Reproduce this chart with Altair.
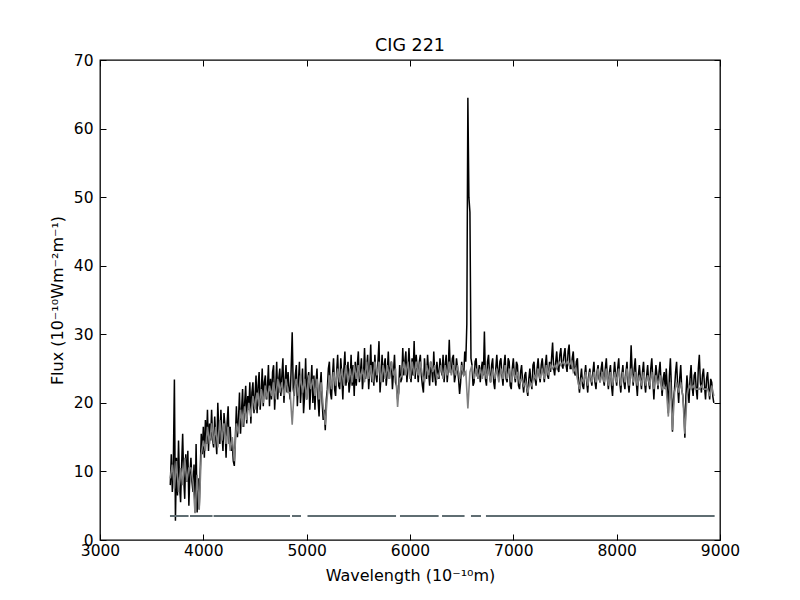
import altair as alt
import pandas as pd

# Wavelength grids (Angstrom)
wave_obs = list(range(3680, 8941, 10))
wave_fit = list(range(3680, 8941, 20))

flux_obs = [
    8.0, 12.5, 7.0, 11.5, 23.4, 2.8, 12.0, 6.5, 14.5, 8.0, 5.5, 11.0, 15.5, 9.0, 6.0, 12.5, 8.5, 13.0, 5.0, 9.5,
    12.0, 8.5, 7.0, 11.0, 4.0, 14.0, 4.0, 9.0, 4.5, 10.0, 15.5, 12.5, 16.5, 12.0, 17.5, 14.0, 19.0, 13.0, 17.0, 14.5,
    19.0, 14.5, 13.5, 18.0, 15.0, 12.5, 20.0, 16.0, 14.0, 19.0, 15.5, 13.0, 18.5, 16.5, 12.0, 17.0, 19.5, 14.0, 16.5, 13.0,
    14.0, 11.5, 10.8, 15.0, 19.5, 15.0, 17.5, 21.5, 15.5, 19.0, 22.0, 16.5, 20.0, 22.5, 17.0, 21.0, 19.0, 23.0, 17.0, 21.5,
    23.0, 18.5, 21.0, 24.0, 18.5, 22.5, 24.5, 19.0, 21.5, 25.0, 19.5, 23.0, 24.0, 20.5, 22.0, 25.5, 19.5, 23.5, 20.5, 24.5,
    25.5, 19.0, 22.0, 26.0, 20.5, 23.5, 25.0, 21.0, 24.0, 26.5, 20.0, 23.0, 25.5, 21.5, 24.5, 22.0, 20.5, 25.0, 30.3, 22.0,
    21.0, 24.0, 25.5, 19.5, 23.0, 26.0, 20.0, 22.5, 25.0, 18.5, 21.0, 26.5, 20.5, 23.5, 24.5, 19.0, 22.5, 25.5, 20.0, 24.0,
    19.0, 23.0, 25.0, 20.5, 18.0, 22.5, 24.5, 20.0, 17.5, 19.0, 16.0, 20.5, 22.0, 25.0, 26.0, 21.5, 20.5, 24.0, 26.5, 22.0,
    21.0, 24.5, 27.0, 22.5, 22.0, 26.5, 24.0, 20.5, 25.0, 27.5, 22.5, 24.0, 26.0, 21.5, 23.0, 27.0, 22.5, 25.5, 21.0, 26.0,
    22.5, 25.5, 27.5, 23.0, 24.5, 26.5, 22.0, 24.0, 28.0, 23.5, 25.0, 27.0, 22.0, 24.5, 28.5, 23.0, 26.0, 22.5, 27.0, 24.0,
    23.0, 26.0, 29.0, 21.5, 24.0, 27.0, 23.0, 25.5, 26.5, 22.5, 24.5, 27.5, 23.5, 25.0, 26.0, 22.0, 24.5, 27.0, 23.0, 22.5,
    20.5, 21.5, 25.5, 23.0, 23.5, 28.0, 24.0, 26.0, 27.5, 23.0, 25.0, 28.0, 24.5, 23.0, 26.5, 24.0, 29.0, 23.5, 27.0, 25.0,
    23.0, 26.0, 27.0, 24.0, 22.5, 21.5, 26.5, 24.0, 23.5, 27.0, 24.5, 22.5, 26.0, 25.0, 23.0, 27.5, 24.0, 22.5, 26.0, 24.5,
    23.5, 26.5, 25.0, 24.0, 27.0, 23.0, 25.5, 27.0, 23.0, 25.0, 29.2, 24.5, 24.5, 26.5, 27.0, 23.0, 24.0, 26.5, 25.0, 23.5,
    21.3, 23.0, 26.0, 24.5, 24.0, 27.5, 26.0, 31.5, 64.5, 50.0, 47.8, 26.5, 25.5, 22.5, 23.0, 26.0, 26.5, 24.0, 23.5, 25.5,
    23.0, 25.0, 26.0, 24.0, 30.4, 23.5, 22.5, 26.0, 27.0, 24.0, 23.0, 25.5, 26.5, 23.0, 22.0, 25.0, 27.0, 24.5, 23.5, 26.0,
    26.5, 24.0, 22.5, 25.5, 27.0, 23.5, 23.0, 26.5, 26.0, 22.5, 22.0, 25.0, 26.5, 24.0, 23.0, 26.0, 25.5, 22.5, 22.0, 24.5,
    25.5, 23.0, 21.5, 24.0, 24.5, 22.0, 21.0, 23.5, 25.0, 23.0, 22.0, 25.5, 26.0, 23.5, 22.5, 25.0, 26.5, 24.0, 23.0, 25.5,
    26.5, 24.5, 23.0, 25.5, 27.0, 24.0, 23.5, 26.0, 24.5, 26.5, 28.8, 25.0, 24.0, 26.0, 27.5, 25.0, 24.5, 27.0, 28.0, 25.5,
    25.0, 27.0, 28.0, 25.5, 24.5, 27.5, 28.5, 25.0, 25.0, 26.5, 27.5, 24.5, 24.0, 26.0, 26.5, 23.0, 21.5, 23.5, 25.0, 22.5,
    22.0, 24.0, 25.5, 23.0, 21.5, 24.0, 25.0, 23.5, 22.5, 24.5, 26.0, 23.0, 22.0, 24.5, 25.5, 23.5, 23.0, 25.0, 26.0, 23.5,
    22.5, 25.0, 26.5, 23.5, 22.0, 24.5, 25.5, 22.5, 21.0, 24.0, 26.0, 24.0, 22.5, 25.0, 26.5, 23.0, 21.5, 24.0, 25.5, 23.0,
    22.0, 24.5, 26.0, 23.0, 21.5, 24.0, 28.4, 24.5, 22.5, 25.0, 26.5, 23.0, 21.0, 24.0, 25.5, 23.5, 22.0, 24.5, 26.0, 23.0,
    21.5, 24.0, 25.5, 23.0, 22.0, 25.0, 26.5, 23.5, 20.5, 23.5, 25.5, 24.0, 22.0, 24.5, 26.0, 23.0, 21.0, 23.5, 24.5, 22.0,
    25.0, 22.0, 18.5, 24.0, 26.5, 22.0, 15.8, 20.5, 22.0, 24.5, 26.0, 22.5, 20.0, 23.5, 25.5, 22.0, 21.0, 19.0, 14.9, 21.0,
    24.0, 22.0, 20.0, 23.5, 25.5, 22.5, 21.0, 24.0, 24.5, 22.0, 20.5, 25.0, 27.0, 23.0, 21.5, 24.0, 25.0, 22.5, 20.5, 23.5,
    24.5, 22.0, 20.5, 23.5, 23.0, 21.0, 20.0,
]

# Model / fitted flux (gray), 20 A sampling
flux_fit = [
    9.0, 11.0, 7.5, 11.5, 7.0, 10.5, 8.0, 12.0, 8.5, 10.5,
    10.5, 8.5, 3.9, 9.5, 4.4, 12.5, 14.5, 13.0, 16.5, 14.0,
    17.0, 14.0, 16.5, 13.5, 17.5, 14.5, 17.0, 14.0, 16.5, 13.0,
    15.0, 11.5, 17.0, 15.5, 19.0, 16.5, 19.5, 17.5, 20.0, 18.0,
    21.0, 19.0, 21.5, 19.5, 22.0, 20.0, 22.5, 20.5, 22.5, 21.0,
    23.0, 20.5, 23.5, 21.5, 23.0, 21.0, 23.5, 21.5, 21.5, 16.8,
    22.0, 23.5, 21.0, 24.0, 21.5, 23.5, 20.5, 24.0, 22.0, 23.5,
    21.0, 23.5, 20.5, 23.0, 19.5, 16.8, 21.0, 24.0, 22.0, 24.5,
    22.5, 25.0, 23.0, 25.0, 22.5, 25.5, 23.0, 25.0, 23.0, 25.5,
    23.5, 25.5, 23.5, 25.0, 23.0, 26.0, 23.5, 25.5, 23.0, 26.0,
    24.0, 26.0, 23.0, 25.5, 23.5, 25.5, 23.5, 26.0, 24.0, 25.0,
    19.4, 23.5, 24.0, 26.0, 24.0, 26.0, 23.5, 26.0, 24.0, 26.0,
    24.0, 26.0, 24.0, 23.0, 25.5, 24.0, 26.0, 24.5, 25.5, 23.5,
    24.0, 25.5, 23.5, 25.5, 24.0, 26.0, 24.0, 25.5, 24.0, 25.5,
    23.5, 25.5, 24.0, 24.5, 19.2, 24.5, 25.5, 23.5, 25.0, 23.5,
    25.0, 23.5, 25.5, 23.5, 25.0, 23.0, 25.0, 23.5, 25.0, 23.0,
    25.0, 23.5, 25.5, 23.5, 25.0, 23.0, 25.0, 23.5, 24.5, 23.0,
    23.5, 22.5, 23.0, 21.5, 23.0, 22.5, 24.0, 23.5, 25.0, 23.5,
    25.0, 23.5, 25.5, 24.0, 25.5, 25.0, 25.5, 25.0, 26.0, 25.5,
    26.0, 25.5, 26.0, 25.5, 26.0, 24.5, 25.0, 23.5, 22.0, 23.5,
    23.0, 24.5, 22.5, 24.5, 23.0, 24.5, 23.0, 25.0, 23.0, 24.5,
    23.0, 25.0, 22.5, 24.5, 22.5, 24.5, 23.0, 25.0, 22.5, 24.5,
    23.0, 25.0, 22.5, 25.0, 23.0, 24.5, 22.5, 24.0, 22.5, 24.5,
    22.5, 24.0, 22.5, 24.5, 22.0, 24.0, 22.5, 24.0, 22.0, 22.5,
    22.0, 18.0, 23.0, 16.0, 21.5, 23.0, 21.5, 23.0, 21.0, 15.5,
    21.0, 22.5, 22.0, 22.5, 22.0, 22.0, 22.0, 22.5, 22.0, 22.0,
    22.0, 21.0, 22.5, 21.0,
]

# Horizontal mask segments near the bottom
seg_start = [3677, 3871, 4099, 4858, 5008, 5903, 6310, 6590, 6735]
seg_end = [3857, 4089, 4839, 4945, 5865, 6277, 6528, 6687, 8948]
seg_level = [3.5] * len(seg_start)

x_ticks = [3000, 4000, 5000, 6000, 7000, 8000, 9000]
y_ticks = [0, 10, 20, 30, 40, 50, 60, 70]

obs = pd.DataFrame({"wave": wave_obs, "flux": flux_obs})
fit = pd.DataFrame({"wave": wave_fit, "flux": flux_fit})
segs = pd.DataFrame({"start": seg_start, "end": seg_end, "level": seg_level})

FONT = "DejaVu Sans"
x_scale = alt.Scale(domain=[3000, 9000], nice=False, zero=False)
y_scale = alt.Scale(domain=[0, 70], nice=False, zero=False)

common = dict(grid=False, domain=False, ticks=True, tickSize=6, tickColor="black",
              tickWidth=1, offset=-6, labelFont=FONT, labelFontSize=15.5,
              labelColor="black", titleFont=FONT, titleFontSize=16,
              titleColor="black", titleFontWeight="normal")

x_bottom = alt.Axis(orient="bottom", values=x_ticks, format="d",
                    title="Wavelength (10⁻¹⁰m)", labelPadding=3, titlePadding=9,
                    labelFlush=False, labelOverlap=False, **common)
y_left = alt.Axis(orient="left", values=y_ticks, format="d",
                  title="Flux (10⁻¹⁰Wm⁻²m⁻¹)", labelPadding=7, titlePadding=8,
                  labelFlush=False, labelOverlap=False, **common)
x_top = alt.Axis(orient="top", values=x_ticks, labels=False, title=None, **common)
y_right = alt.Axis(orient="right", values=y_ticks, labels=False, title=None, **common)

obs_line = alt.Chart(obs).mark_line(color="black", strokeWidth=1.5).encode(
    x=alt.X("wave:Q", scale=x_scale, axis=x_bottom),
    y=alt.Y("flux:Q", scale=y_scale, axis=y_left),
)
fit_line = alt.Chart(fit).mark_line(color="#808080", strokeWidth=1.6).encode(
    x=alt.X("wave:Q", scale=x_scale, axis=x_top),
    y=alt.Y("flux:Q", scale=y_scale, axis=y_right),
)
mask = alt.Chart(segs).mark_rule(color="#5f6d72", strokeWidth=2).encode(
    x=alt.X("start:Q", scale=x_scale, axis=None),
    x2="end:Q",
    y=alt.Y("level:Q", scale=y_scale, axis=None),
)

chart = alt.layer(obs_line, fit_line, mask).resolve_axis(
    x="independent", y="independent"
).properties(
    width=620, height=480,
    title=alt.Title("CIG 221", font=FONT, fontSize=17.5, fontWeight="normal",
                    color="black", offset=-1),
    autosize=alt.AutoSizeParams(type="none"),
    padding={"left": 92, "top": 52, "right": 72, "bottom": 52},
).configure_view(stroke="black", strokeWidth=1.3)

chart.save("out.html", embed_options={"renderer": "svg", "actions": False})
